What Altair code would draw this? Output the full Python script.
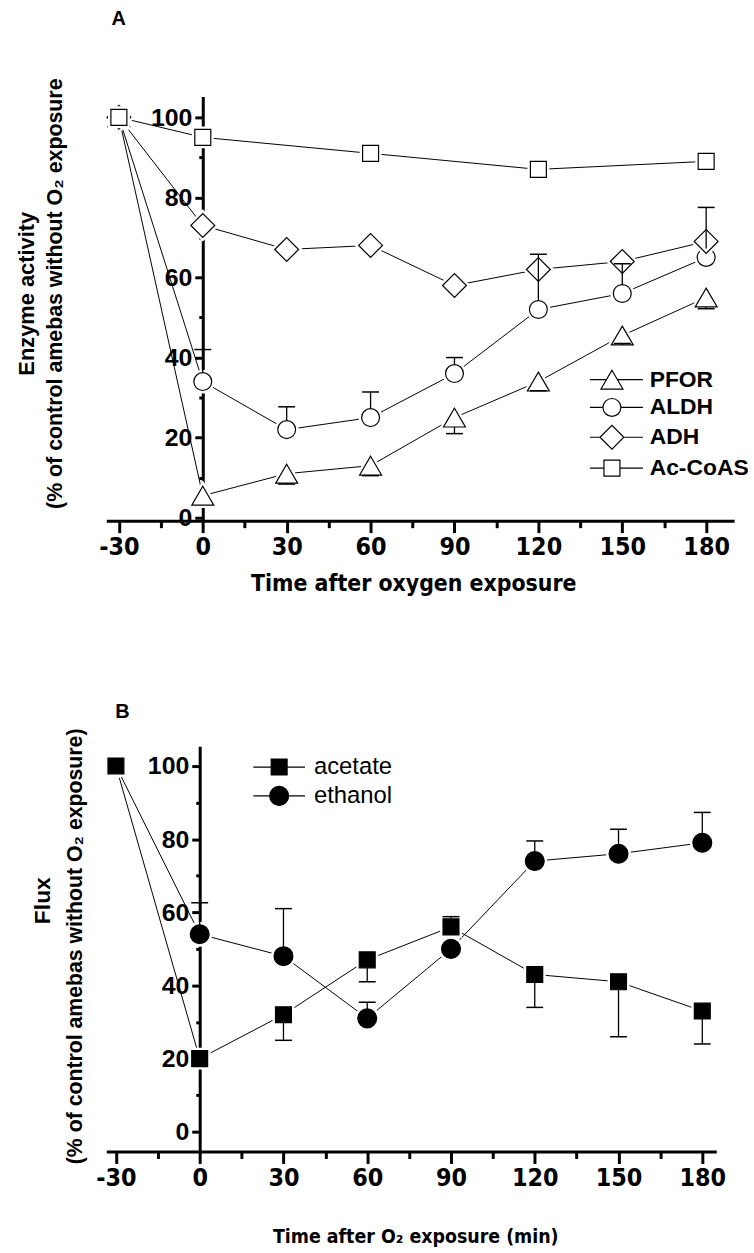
import altair as alt
import pandas as pd

# ---------------- data ----------------
time_points = [-30, 0, 30, 60, 90, 120, 150, 180]

# Panel A: enzyme activity (% of control amebas without O2 exposure)
pfor = [100, 5.5, 11, 13, 25, 34, 45.5, 55]
aldh = [100, 34, 22, 25, 36, 52, 56, 65]
adh = [100, 73, 67, 68, 58, 62, 64, 69]
acoas_time = [-30, 0, 60, 120, 180]
acoas = [100, 95, 91, 87, 89]

# one-sided error bars (time, end of bar)
aldh_err_time = [0, 30, 60, 90, 120, 150, 180]
aldh_err_end = [42, 27.7, 31.4, 40, 65.8, 63.4, 77.5]
pfor_err_time = [30, 60, 90, 120, 150, 180]
pfor_err_end = [8.4, 10.5, 21, 31.7, 43.5, 52.2]

# Panel B: flux (% of control amebas without O2 exposure)
acetate = [100, 20, 32, 47, 56, 43, 41, 33]
ethanol = [100, 54, 48, 31, 50, 74, 76, 79]
acetate_err_time = [30, 60, 90, 120, 150, 180]
acetate_err_end = [25, 41, 58.8, 34, 26, 24]
ethanol_err_time = [0, 30, 60, 120, 150, 180]
ethanol_err_end = [62.6, 61, 35.4, 79.5, 82.7, 87.3]

x_major = [-30, 0, 30, 60, 90, 120, 150, 180]
x_minor = [-15, 15, 45, 75, 105, 135, 165]
y_major = [0, 20, 40, 60, 80, 100]
y_minor = [10, 30, 50, 70, 90]

NARROW_FONT = "Liberation Sans Narrow, DejaVu Sans Condensed, Liberation Sans"
TEXT_FONT = "Liberation Sans, Arial, sans-serif"
HYPHEN_LABEL = "datum.value < 0 ? '-' + (-datum.value) : '' + datum.value"


def series_frame(entries):
    rows = []
    for name, times, values in entries:
        rows += [{"series": name, "time": t, "value": v} for t, v in zip(times, values)]
    return pd.DataFrame(rows)


def error_frame(entries):
    rows = []
    for name, times, values, err_times, ends in entries:
        lookup = dict(zip(times, values))
        for t, e in zip(err_times, ends):
            v = lookup[t]
            rows.append({"series": name, "time": t, "value": v, "end": e,
                         "dir": "up" if e > v else "down"})
    return pd.DataFrame(rows)


# symbol outlines in a [-1, 1] box; legend versions carry the line stubs
def circle_path(r):
    return f"M{r},0A{r},{r},0,1,1,{-r},0A{r},{r},0,1,1,{r},0Z"


def square_path(h):
    return f"M{-h},{-h}H{h}V{h}H{-h}Z"


def diamond_path(h):
    return f"M{-h},0L0,{-h}L{h},0L0,{h}Z"


def triangle_path(w, h):
    return f"M0,{-h}L{w},{h}L{-w},{h}Z"


def with_stubs(path, inner, left, right):
    return f"M{-left},0H{-inner}M{inner},0H{right}" + path


def panel(points, errors, order, draw_order, shapes, legend_shapes, filled,
          sym_size, x_dom, y_dom, width, height, x_title, y_lines, letter, geo):
    x_scale = alt.Scale(domain=x_dom, nice=False, zero=False)
    y_scale = alt.Scale(domain=y_dom, nice=False, zero=False)
    # the value axis crosses the time axis at t = 0
    y_off = -width * (0 - x_dom[0]) / (x_dom[1] - x_dom[0])

    axis_common = dict(domainColor="black", tickColor="black", labelColor="black",
                       titleColor="black", grid=False, labelOverlap=False,
                       labelFlush=False)

    x_major_axis = alt.Axis(
        values=x_major, orient="bottom", tickSize=12, tickWidth=3, domainWidth=3,
        labelFont=NARROW_FONT, labelFontSize=geo["xtick_fs"], labelFontWeight="bold",
        labelPadding=geo["xlab_pad"], labelExpr=HYPHEN_LABEL, title=x_title,
        titleFont=NARROW_FONT, titleFontSize=geo["xtitle_fs"], titleFontWeight="bold",
        titleX=geo["xtitle_x"], titleY=geo["xtitle_y"], titleBaseline="alphabetic",
        **axis_common)
    x_minor_axis = alt.Axis(
        values=x_minor, orient="bottom", tickSize=7, tickWidth=3, domain=False,
        labels=False, title=None, **axis_common)
    y_major_axis = alt.Axis(
        values=y_major, orient="left", offset=y_off, tickSize=8, tickWidth=3,
        domainWidth=3, labelFont=TEXT_FONT, labelFontSize=geo["ytick_fs"],
        labelFontWeight="bold", labelPadding=3, labelExpr=HYPHEN_LABEL,
        title=y_lines[1], titleFont=TEXT_FONT, titleFontSize=geo["y2_fs"],
        titleFontWeight="bold", titleAngle=270, titleX=geo["y2_x"],
        titleY=geo["y2_y"], titleBaseline="middle", titleAlign="center",
        **axis_common)
    y_minor_axis = alt.Axis(
        values=y_minor, orient="left", offset=y_off, tickSize=4, tickWidth=3,
        domain=False, labels=False, title=y_lines[0], titleFont=TEXT_FONT,
        titleFontSize=geo["y1_fs"], titleFontWeight="bold", titleAngle=270,
        titleX=geo["y1_x"], titleY=geo["y1_y"], titleBaseline="middle",
        titleAlign="center", **axis_common)

    shape_enc = alt.Shape("series:N", scale=alt.Scale(domain=order, range=shapes),
                          legend=None)
    base = alt.Chart(points)

    layers = [base.mark_line(color="black", strokeWidth=1).encode(
        x=alt.X("time:Q", scale=x_scale, axis=x_major_axis),
        y=alt.Y("value:Q", scale=y_scale, axis=y_major_axis),
        detail="series:N",
    )]

    # each series: white halo (leaves a gap in the connecting lines) then symbol
    face = "black" if filled else "white"
    for i, name in enumerate(draw_order):
        sub = base.transform_filter(alt.datum.series == name)
        layers.append(sub.mark_point(filled=True, fill="white", stroke="white",
                                     strokeWidth=6, size=sym_size, opacity=1).encode(
            x=alt.X("time:Q", scale=x_scale, axis=x_minor_axis if i == 0 else None),
            y=alt.Y("value:Q", scale=y_scale, axis=y_minor_axis if i == 0 else None),
            shape=shape_enc,
        ))
        layers.append(sub.mark_point(filled=True, fill=face, stroke="black",
                                     strokeWidth=1.2, size=sym_size, opacity=1).encode(
            x=alt.X("time:Q", scale=x_scale, axis=None),
            y=alt.Y("value:Q", scale=y_scale, axis=None),
            shape=shape_enc,
        ))

    err = alt.Chart(errors)
    layers.append(err.transform_filter(alt.datum.dir == "up").mark_rule(
        color="black", strokeWidth=1.3, y2Offset=-geo["up_gap"]).encode(
        x=alt.X("time:Q", scale=x_scale, axis=None),
        y=alt.Y("end:Q", scale=y_scale, axis=None),
        y2="value:Q",
    ))
    layers.append(err.transform_filter(alt.datum.dir == "down").mark_rule(
        color="black", strokeWidth=1.3, y2Offset=geo["down_gap"]).encode(
        x=alt.X("time:Q", scale=x_scale, axis=None),
        y=alt.Y("end:Q", scale=y_scale, axis=None),
        y2="value:Q",
    ))
    layers.append(err.mark_tick(orient="horizontal", size=17, thickness=1.5,
                                color="black", opacity=1).encode(
        x=alt.X("time:Q", scale=x_scale, axis=None),
        y=alt.Y("end:Q", scale=y_scale, axis=None),
    ))

    # key: symbols with short line stubs on each side
    layers.append(base.transform_filter("false").mark_point(
        filled=False, fill=face, stroke="black", strokeWidth=1.2, size=sym_size,
        opacity=1).encode(
        shape=alt.Shape("series:N",
                        scale=alt.Scale(domain=order, range=legend_shapes),
                        legend=alt.Legend(
                            title=None, orient="none", legendX=geo["leg_x"],
                            legendY=geo["leg_y"], symbolSize=sym_size,
                            symbolStrokeWidth=1.2, symbolOpacity=1,
                            labelFont=TEXT_FONT, labelFontSize=geo["leg_fs"],
                            labelFontWeight=geo["leg_weight"], labelColor="black",
                            labelOffset=geo["leg_off"], rowPadding=geo["leg_row"],
                            padding=0, labelLimit=300)),
    ))

    return alt.layer(*layers).resolve_scale(shape="independent").resolve_axis(
        x="independent", y="independent").properties(
        width=width, height=height,
        title=alt.TitleParams(letter, anchor="start", dx=geo["title_dx"],
                              offset=geo["title_off"], font=TEXT_FONT, fontSize=20,
                              fontWeight="bold", color="black"),
    )


# ---------------- panel A ----------------
order_a = ["PFOR", "ALDH", "ADH", "Ac-CoAS"]
points_a = series_frame([
    ("PFOR", time_points, pfor),
    ("ALDH", time_points, aldh),
    ("ADH", time_points, adh),
    ("Ac-CoAS", acoas_time, acoas),
])
errors_a = error_frame([
    ("ALDH", time_points, aldh, aldh_err_time, aldh_err_end),
    ("PFOR", time_points, pfor, pfor_err_time, pfor_err_end),
])
# unit = 12 px at size 576
shapes_a = [triangle_path(0.92, 0.79), circle_path(0.75), diamond_path(1.0),
            square_path(0.67)]
legend_a = [with_stubs(shapes_a[0], 0.45, 1.85, 2.6),
            with_stubs(shapes_a[1], 0.75, 1.85, 2.6),
            with_stubs(shapes_a[2], 1.0, 1.85, 2.6),
            with_stubs(shapes_a[3], 0.67, 1.85, 2.6)]

chart_a = panel(
    points_a, errors_a, order_a, order_a, shapes_a, legend_a, False, 576,
    [-34.5, 190], [-0.75, 105.2], 632, 427,
    "Time after oxygen exposure",
    ["Enzyme activity", "(% of control amebas without O\u2082 exposure"], "A",
    dict(xtick_fs=25, ytick_fs=25, xlab_pad=2, xtitle_fs=23, xtitle_x=309,
         xtitle_y=70, y1_fs=22, y2_fs=21.5, y1_x=-177, y2_x=-148,
         y1_y=198, y2_y=198, up_gap=9, down_gap=9.5, leg_x=496, leg_y=272,
         leg_fs=23, leg_weight="bold", leg_off=25, leg_row=3, title_dx=96,
         title_off=49),
)

# ---------------- panel B ----------------
order_b = ["acetate", "ethanol"]
points_b = series_frame([
    ("acetate", time_points, acetate),
    ("ethanol", time_points, ethanol),
])
errors_b = error_frame([
    ("acetate", time_points, acetate, acetate_err_time, acetate_err_end),
    ("ethanol", time_points, ethanol, ethanol_err_time, ethanol_err_end),
])
# unit = 10 px at size 400
shapes_b = [square_path(0.8), circle_path(0.95)]
legend_b = [with_stubs(shapes_b[0], 0.8, 2.6, 2.6),
            with_stubs(shapes_b[1], 0.95, 2.6, 2.6)]

chart_b = panel(
    points_b, errors_b, order_b, ["ethanol", "acetate"], shapes_b, legend_b, True,
    400, [-33.45, 185], [-5.4, 105.4], 614, 408,
    "Time after O\u2082 exposure (min)",
    ["Flux", "(% of control amebas without O\u2082 exposure)"], "B",
    dict(xtick_fs=25, ytick_fs=25, xlab_pad=2, xtitle_fs=19.5, xtitle_x=311,
         xtitle_y=92, y1_fs=23, y2_fs=21.4, y1_x=-158, y2_x=-125,
         y1_y=155, y2_y=201, up_gap=9, down_gap=8, leg_x=162, leg_y=9,
         leg_fs=24, leg_weight="normal", leg_off=23, leg_row=5, title_dx=84,
         title_off=6),
)

chart = alt.vconcat(chart_a, chart_b, spacing=107).configure_view(
    stroke=None).properties(
    padding={"left": 16, "top": 5, "right": 5, "bottom": 2}, background="white")

chart.save("out.html", embed_options={"renderer": "svg", "actions": False})
